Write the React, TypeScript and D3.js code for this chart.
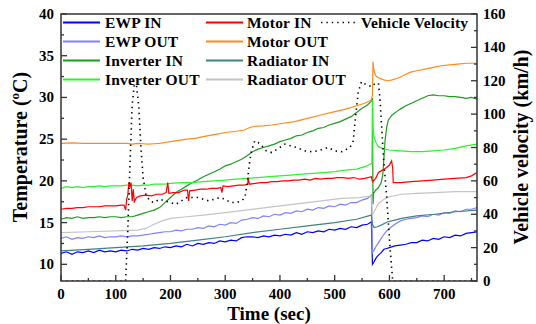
import React from "react";
import * as d3 from "d3";

const W = 536, H = 324;
const M = { left: 61, right: 477, top: 14, bottom: 281 };

const xTicksMajor = [0, 100, 200, 300, 400, 500, 600, 700];
const xTicksMinor = [50, 150, 250, 350, 450, 550, 650, 750];
const yTicksMajor = [10, 15, 20, 25, 30, 35, 40];
const yTicksMinor = [12.5, 17.5, 22.5, 27.5, 32.5, 37.5];
const vTicksMajor = [0, 20, 40, 60, 80, 100, 120, 140, 160];
const vTicksMinor = [10, 30, 50, 70, 90, 110, 130, 150];

const ewpIn: [number, number][] = [[0,11.3],[10,11.5],[20,11.2],[30,11.5],[40,11.4],[50,11.6],[60,11.4],[70,11.7],[80,11.5],[90,11.6],[100,11.5],[110,11.7],[120,11.6],[130,11.8],[140,11.7],[150,11.9],[160,11.8],[170,12.0],[180,11.9],[190,12.1],[200,12.0],[210,12.2],[220,12.1],[230,12.4],[240,12.2],[250,12.5],[260,12.4],[270,12.6],[280,12.5],[290,12.8],[300,12.7],[310,12.9],[320,12.8],[330,13.2],[340,13.3],[350,13.3],[360,13.2],[370,13.4],[380,13.3],[390,13.5],[400,13.4],[410,13.6],[420,13.5],[430,13.8],[440,13.6],[450,13.9],[460,13.8],[470,14.0],[480,13.9],[490,14.2],[500,14.1],[510,14.3],[520,14.2],[530,14.5],[540,14.4],[550,14.7],[560,14.8],[567,15.1],[569,10.0],[572,10.3],[576,10.8],[580,11.1],[585,11.4],[590,11.8],[595,11.9],[600,12.0],[610,12.2],[620,12.3],[630,12.4],[640,12.6],[650,12.6],[660,12.9],[670,12.8],[680,13.1],[690,13.0],[700,13.3],[710,13.2],[720,13.5],[730,13.4],[740,13.7],[750,13.8],[760,13.9]];

const ewpOut: [number, number][] = [[0,13.1],[10,13.3],[20,13.0],[30,13.2],[40,13.1],[50,13.3],[60,13.2],[70,13.4],[80,13.2],[90,13.3],[100,13.3],[110,13.4],[120,13.3],[130,13.4],[140,13.4],[150,13.5],[160,13.6],[170,13.7],[180,13.8],[190,13.9],[200,13.9],[210,14.1],[220,14.0],[230,14.2],[240,14.2],[250,14.4],[260,14.3],[270,14.6],[280,14.5],[290,14.8],[300,14.7],[310,15.0],[320,14.9],[330,15.3],[340,15.4],[350,15.6],[360,15.5],[370,15.8],[380,15.7],[390,16.0],[400,15.9],[410,16.2],[420,16.1],[430,16.4],[440,16.3],[450,16.6],[460,16.5],[470,16.8],[480,16.7],[490,17.0],[500,16.9],[510,17.2],[520,17.1],[530,17.4],[540,17.4],[550,17.7],[560,17.9],[567,18.3],[569,11.4],[572,11.7],[576,12.2],[580,12.6],[585,13.1],[590,13.6],[595,14.0],[600,14.3],[610,14.8],[620,15.2],[630,15.4],[640,15.5],[650,15.6],[660,15.8],[670,15.7],[680,16.0],[690,15.9],[700,16.2],[710,16.1],[720,16.4],[730,16.3],[740,16.6],[750,16.6],[760,16.8]];

const inverterIn: [number, number][] = [[0,15.4],[10,15.6],[20,15.5],[30,15.7],[40,15.5],[50,15.6],[60,15.6],[70,15.7],[80,15.6],[90,15.7],[100,15.7],[110,15.6],[120,15.7],[130,15.7],[140,15.9],[150,16.1],[160,16.3],[170,16.5],[180,16.8],[190,17.4],[200,18.0],[210,18.6],[220,19.0],[230,19.4],[240,19.8],[250,20.1],[260,20.5],[270,20.8],[280,21.1],[290,21.4],[300,21.8],[310,22.0],[320,22.3],[330,22.6],[340,23.0],[350,23.5],[360,23.8],[370,24.0],[380,24.2],[390,24.4],[400,24.7],[410,24.9],[420,25.1],[430,25.4],[440,25.5],[450,25.8],[460,26.0],[470,26.3],[480,26.4],[490,26.7],[500,26.9],[510,27.1],[520,27.4],[530,27.7],[540,28.2],[550,28.7],[560,29.1],[566,29.5],[569,29.9],[570,17.2],[571,18.5],[575,18.9],[580,19.2],[585,19.8],[588,20.8],[590,22.8],[592,24.8],[595,26.4],[598,27.3],[605,27.9],[613,28.3],[620,28.6],[630,29.0],[640,29.3],[650,29.6],[660,29.9],[670,30.2],[680,30.3],[690,30.2],[700,30.2],[710,30.1],[720,30.1],[730,30.0],[740,29.9],[750,30.0],[760,29.8]];

const inverterOut: [number, number][] = [[0,19.1],[10,19.3],[20,19.2],[30,19.3],[40,19.2],[50,19.3],[60,19.3],[70,19.4],[80,19.3],[90,19.4],[100,19.4],[110,19.4],[120,19.5],[130,19.5],[140,19.4],[150,19.5],[160,19.5],[170,19.6],[180,19.6],[190,19.6],[200,19.7],[220,19.8],[240,19.8],[260,19.9],[280,20.0],[300,20.1],[320,20.2],[340,20.3],[360,20.4],[380,20.5],[400,20.6],[420,20.7],[440,20.8],[460,20.9],[480,21.0],[500,21.1],[520,21.3],[540,21.4],[555,21.7],[568,22.1],[569,29.7],[570,26.5],[572,25.2],[576,24.5],[580,24.1],[590,23.8],[600,23.7],[620,23.6],[640,23.5],[660,23.5],[680,23.6],[700,23.7],[720,23.9],[740,24.2],[760,24.4]];

const motorIn: [number, number][] = [[0,16.6],[10,16.7],[20,16.7],[30,16.8],[40,16.8],[50,16.9],[60,16.9],[70,16.9],[80,17.0],[90,17.0],[100,17.0],[110,17.1],[115,17.1],[118,16.5],[120,17.8],[122,18.3],[124,19.8],[126,19.3],[128,19.8],[130,17.6],[132,19.0],[134,17.5],[138,18.0],[145,18.2],[155,18.3],[165,18.2],[175,18.4],[185,18.4],[192,18.6],[195,19.8],[197,18.5],[205,18.6],[215,18.6],[225,18.9],[231,18.9],[233,17.6],[235,18.8],[245,18.9],[255,19.0],[265,19.0],[275,19.1],[285,19.1],[292,19.2],[294,18.6],[296,19.4],[305,19.3],[315,19.4],[325,19.5],[335,19.5],[341,19.6],[342,20.4],[344,19.6],[355,19.7],[365,19.8],[375,19.8],[385,19.9],[395,19.9],[405,20.0],[415,20.0],[425,20.1],[435,20.1],[445,20.2],[455,20.1],[465,20.3],[475,20.2],[485,20.3],[495,20.3],[505,20.4],[515,20.4],[525,20.3],[535,20.4],[545,20.2],[555,20.3],[567,20.5],[569,19.9],[575,20.3],[580,21.0],[585,21.2],[590,21.4],[595,21.6],[600,21.9],[604,22.4],[606,21.5],[607,19.8],[620,19.8],[640,19.9],[660,20.0],[680,20.1],[700,20.2],[720,20.3],[740,20.4],[750,20.6],[760,21.0]];

const motorOut: [number, number][] = [[0,24.5],[20,24.55],[40,24.5],[60,24.5],[80,24.5],[100,24.5],[120,24.5],[130,24.4],[140,24.5],[150,24.45],[160,24.4],[170,24.45],[180,24.5],[190,24.6],[200,24.7],[215,24.85],[230,25.0],[245,25.1],[260,25.3],[280,25.55],[300,25.8],[320,25.95],[335,26.1],[345,26.4],[355,26.55],[370,26.6],[385,26.7],[400,26.85],[427,27.1],[450,27.5],[475,27.9],[500,28.3],[520,28.6],[540,29.0],[555,29.3],[567,29.7],[569,30.3],[570,34.3],[571,33.6],[573,32.9],[576,32.5],[582,32.3],[590,32.1],[597,32.0],[605,32.1],[615,32.3],[625,32.6],[637,33.0],[650,33.2],[665,33.4],[680,33.6],[695,33.8],[710,33.9],[725,34.0],[740,34.1],[760,34.1]];

const radiatorIn: [number, number][] = [[0,11.6],[50,11.8],[100,12.0],[150,12.2],[200,12.5],[250,12.9],[300,13.3],[350,13.8],[400,14.2],[450,14.6],[500,15.0],[540,15.4],[567,15.9],[569,14.8],[572,14.4],[578,14.5],[585,14.7],[597,15.1],[610,15.3],[622,15.5],[650,15.8],[683,16.0],[720,16.3],[760,16.5]];

const radiatorOut: [number, number][] = [[0,13.8],[50,13.9],[100,14.0],[140,14.1],[155,14.3],[170,14.8],[185,15.2],[200,15.5],[230,15.7],[260,15.9],[300,16.2],[363,16.7],[400,17.0],[450,17.4],[513,17.9],[546,18.0],[567,18.2],[569,16.0],[572,16.3],[580,17.3],[590,17.8],[600,18.1],[622,18.4],[650,18.5],[683,18.6],[720,18.7],[760,18.7]];

const velocity: [number, number][] = [[0,0],[118,0],[122,30],[126,70],[130,105],[134,118],[138,117],[142,105],[146,80],[150,62],[155,52],[162,48],[170,47],[180,49],[190,48],[200,47],[210,46],[220,48],[230,50],[240,50],[250,50],[260,49],[270,48],[280,49],[290,50],[300,49],[310,47],[320,47],[330,48],[336,50],[340,58],[344,70],[348,78],[354,84],[360,83],[367,81],[375,78],[385,77],[395,79],[409,82],[420,81],[430,80],[445,78],[458,77.5],[470,78],[488,80],[500,78],[513,77.5],[528,80],[534,84],[537,95],[540,104],[543,113],[549,119.5],[558,117.5],[568,116.5],[574,118.5],[580,118.5],[583,108],[589,74.5],[595,50.5],[601,20.5],[606,0],[760,0]];

const seriesNames = ["EWP IN", "EWP OUT", "Inverter IN", "Inverter OUT", "Motor IN", "Motor OUT", "Radiator IN", "Radiator OUT"];
const seriesData = [ewpIn, ewpOut, inverterIn, inverterOut, motorIn, motorOut, radiatorIn, radiatorOut];
const seriesColors = ["#0000ff", "#8080ff", "#1f9a1f", "#2cf22c", "#ff0000", "#ff8a1c", "#3f8282", "#c4c4c4"];

const FONT = "'Liberation Serif', 'Times New Roman', serif";

export default function App() {
  const x = d3.scaleLinear().domain([0, 760]).range([M.left, M.right]);
  const y = d3.scaleLinear().domain([8, 40]).range([M.bottom, M.top]);
  const yv = d3.scaleLinear().domain([0, 160]).range([M.bottom, M.top]);
  const line = d3.line<[number, number]>().x(d => x(d[0])).y(d => y(d[1]));
  const vline = d3.line<[number, number]>().x(d => x(d[0])).y(d => yv(d[1]));
  const axisColor = "#333";

  const legendRows = [22.5, 41.5, 60.5, 79.5];
  const legendCols = [{ x1: 63, x2: 100, tx: 105 }, { x1: 206, x2: 243, tx: 247 }];

  return (
    <div style={{ position: "absolute", left: 0, top: 0 }}>
      <svg width={W} height={H} style={{ display: "block", fontFamily: FONT }}>
        <rect width={W} height={H} fill="#fff" />
        <defs>
          <clipPath id="plot">
            <rect x={M.left} y={M.top} width={M.right - M.left} height={M.bottom - M.top} />
          </clipPath>
        </defs>
        <g clipPath="url(#plot)">
          {seriesData.map((s, i) => (
            <path key={i} d={line(s) || ""} fill="none" stroke={seriesColors[i]} strokeWidth={1.2} />
          ))}
          <path d={vline(velocity) || ""} fill="none" stroke="#000" strokeWidth={1.6} strokeDasharray="1.4 4" />
        </g>
        <rect x={M.left} y={M.top} width={M.right - M.left} height={M.bottom - M.top} fill="none" stroke={axisColor} strokeWidth={1.5} />
        {xTicksMajor.map(t => (
          <g key={"xm" + t}>
            <line x1={x(t)} x2={x(t)} y1={M.bottom} y2={M.bottom - 6} stroke={axisColor} strokeWidth={1.3} />
            <text x={x(t)} y={299} textAnchor="middle" fontSize={15} fontWeight="bold">{t}</text>
          </g>
        ))}
        {xTicksMinor.map(t => (
          <line key={"xn" + t} x1={x(t)} x2={x(t)} y1={M.bottom} y2={M.bottom - 3} stroke={axisColor} strokeWidth={1.3} />
        ))}
        {yTicksMajor.map(t => (
          <g key={"ym" + t}>
            <line x1={M.left} x2={M.left + 6} y1={y(t)} y2={y(t)} stroke={axisColor} strokeWidth={1.3} />
            <text x={54} y={y(t) + 5} textAnchor="end" fontSize={15} fontWeight="bold">{t}</text>
          </g>
        ))}
        {yTicksMinor.map(t => (
          <line key={"yn" + t} x1={M.left} x2={M.left + 3} y1={y(t)} y2={y(t)} stroke={axisColor} strokeWidth={1.3} />
        ))}
        {vTicksMajor.map(t => (
          <g key={"vm" + t}>
            <line x1={M.right} x2={M.right - 6} y1={yv(t)} y2={yv(t)} stroke={axisColor} strokeWidth={1.3} />
            <text x={483} y={yv(t) + 5} textAnchor="start" fontSize={15} fontWeight="bold">{t}</text>
          </g>
        ))}
        {vTicksMinor.map(t => (
          <line key={"vn" + t} x1={M.right} x2={M.right - 3} y1={yv(t)} y2={yv(t)} stroke={axisColor} strokeWidth={1.3} />
        ))}
        <text x={269} y={319.5} textAnchor="middle" fontSize={19} fontWeight="bold">Time (sec)</text>
        <text transform="translate(27,147) rotate(-90)" textAnchor="middle" fontSize={20} fontWeight="bold">
          Temperature (<tspan fontSize={13} dy={-8}>o</tspan><tspan dy={8}>C)</tspan>
        </text>
        <text transform="translate(528,147) rotate(-90)" textAnchor="middle" fontSize={20} fontWeight="bold">Vehicle velocity (km/h)</text>
        {seriesNames.map((n, i) => {
          const col = legendCols[Math.floor(i / 4)];
          const ry = legendRows[i % 4];
          return (
            <g key={"lg" + i}>
              <line x1={col.x1} x2={col.x2} y1={ry} y2={ry} stroke={seriesColors[i]} strokeWidth={2} />
              <text x={col.tx} y={ry + 5} fontSize={15.5} fontWeight="bold" letterSpacing={0.2}>{n}</text>
            </g>
          );
        })}
        <line x1={321} x2={358} y1={legendRows[0]} y2={legendRows[0]} stroke="#000" strokeWidth={1.6} strokeDasharray="1.4 4" />
        <text x={361} y={legendRows[0] + 5} fontSize={15.5} fontWeight="bold" letterSpacing={0.2}>Vehicle Velocity</text>
      </svg>
    </div>
  );
}
